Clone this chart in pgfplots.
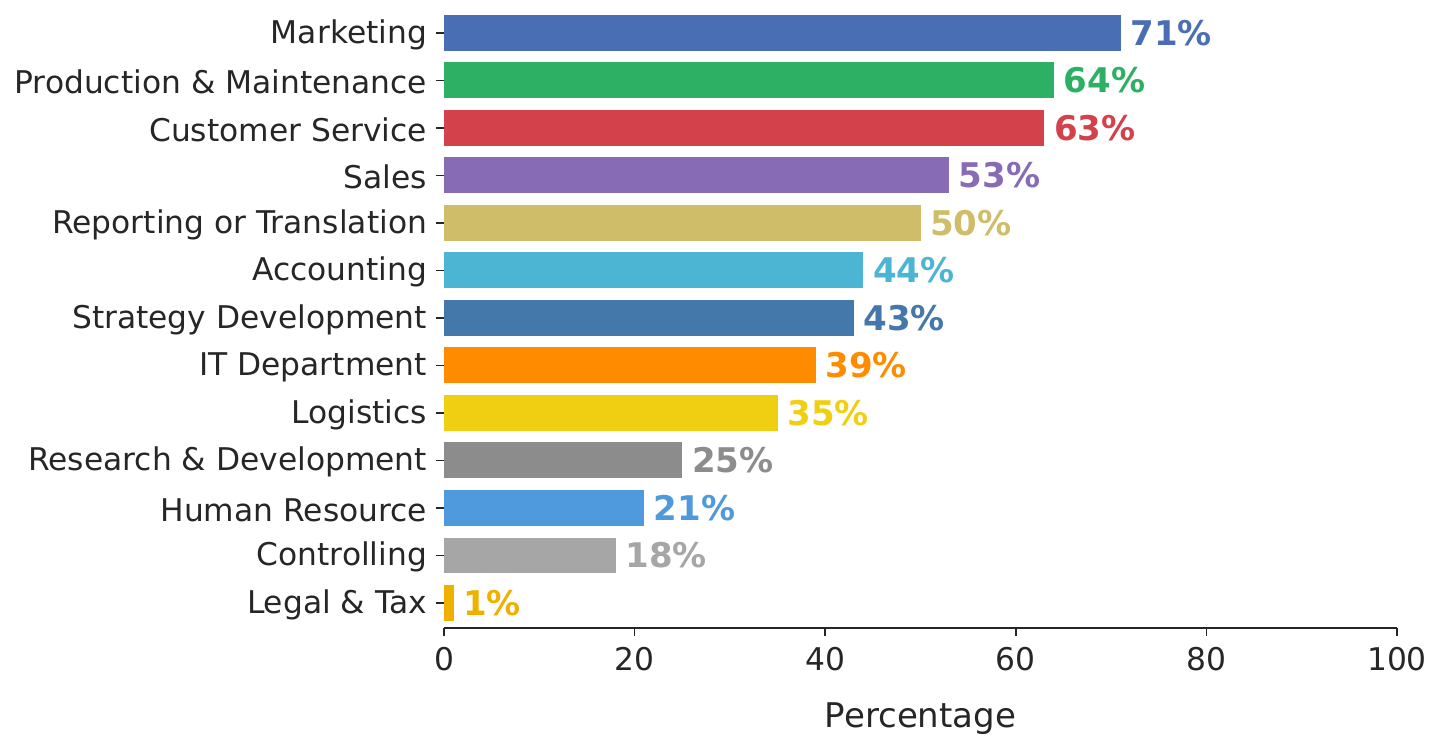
\documentclass[border=0pt]{standalone}
\usepackage{fontspec}
\setmainfont{DejaVu Sans}
\usepackage{pgfplots}
\pgfplotsset{compat=1.18}
\definecolor{txt}{HTML}{262626}
\definecolor{c1}{HTML}{4A6EB4}
\definecolor{c2}{HTML}{2DB064}
\definecolor{c3}{HTML}{D3414B}
\definecolor{c4}{HTML}{886BB5}
\definecolor{c5}{HTML}{CFBD6A}
\definecolor{c6}{HTML}{4BB5D3}
\definecolor{c7}{HTML}{4477AA}
\definecolor{c8}{HTML}{FF8C00}
\definecolor{c9}{HTML}{F0CF13}
\definecolor{c10}{HTML}{8C8C8C}
\definecolor{c11}{HTML}{4F9ADC}
\definecolor{c12}{HTML}{A6A6A6}
\definecolor{c13}{HTML}{EFB000}
\newcommand{\fs}{\fontsize{15.65}{18}\selectfont}
\newcommand{\fb}{\fontsize{17}{20}\selectfont}
\begin{document}
\begin{tikzpicture}
\path[use as bounding box] (0,0) rectangle (720pt,370.5pt);
\begin{axis}[
  at={(222pt,56.5pt)}, anchor=south west,
  scale only axis, width=476.5pt, height=309.5pt,
  xmin=0, xmax=100, ymin=-0.53, ymax=12.5,
  xbar, bar width=0.75,
  axis x line*=bottom, axis y line*=left,
  y axis line style={draw=none},
  x axis line style={-, txt, line width=1pt},
  tick align=outside, xtick pos=bottom, ytick pos=left,
  major tick length=4pt,
  every tick/.style={txt, line width=0.75pt},
  xtick={0,20,...,100},
  ytick={0,...,12},
  yticklabels={Legal \& Tax, Controlling, Human Resource, Research \& Development, Logistics, IT Department, Strategy Development, Accounting, Reporting or Translation, Sales, Customer Service, Production \& Maintenance, Marketing},
  ticklabel style={font=\fs, text=txt},
  xticklabel style={yshift=-2pt},
  yticklabel style={xshift=-1pt, yshift=-1pt},
  xlabel={Percentage},
  xlabel style={font=\fb, text=txt, yshift=-9pt},
  /pgf/number format/assume math mode=true,
  nodes near coords={\pgfmathprintnumber{\pgfplotspointmeta}\%},
  every node near coord/.append style={font=\bfseries\fb, anchor=west, inner sep=0pt, xshift=4.7pt},
  clip=false,
]
\addplot[fill=c1, draw=none, bar shift=0pt, every node near coord/.append style={text=c1}] coordinates {(71,12)};
\addplot[fill=c2, draw=none, bar shift=0pt, every node near coord/.append style={text=c2}] coordinates {(64,11)};
\addplot[fill=c3, draw=none, bar shift=0pt, every node near coord/.append style={text=c3}] coordinates {(63,10)};
\addplot[fill=c4, draw=none, bar shift=0pt, every node near coord/.append style={text=c4}] coordinates {(53,9)};
\addplot[fill=c5, draw=none, bar shift=0pt, every node near coord/.append style={text=c5}] coordinates {(50,8)};
\addplot[fill=c6, draw=none, bar shift=0pt, every node near coord/.append style={text=c6}] coordinates {(44,7)};
\addplot[fill=c7, draw=none, bar shift=0pt, every node near coord/.append style={text=c7}] coordinates {(43,6)};
\addplot[fill=c8, draw=none, bar shift=0pt, every node near coord/.append style={text=c8}] coordinates {(39,5)};
\addplot[fill=c9, draw=none, bar shift=0pt, every node near coord/.append style={text=c9}] coordinates {(35,4)};
\addplot[fill=c10, draw=none, bar shift=0pt, every node near coord/.append style={text=c10}] coordinates {(25,3)};
\addplot[fill=c11, draw=none, bar shift=0pt, every node near coord/.append style={text=c11}] coordinates {(21,2)};
\addplot[fill=c12, draw=none, bar shift=0pt, every node near coord/.append style={text=c12}] coordinates {(18,1)};
\addplot[fill=c13, draw=none, bar shift=0pt, every node near coord/.append style={text=c13}] coordinates {(1,0)};
\end{axis}
\end{tikzpicture}
\end{document}
